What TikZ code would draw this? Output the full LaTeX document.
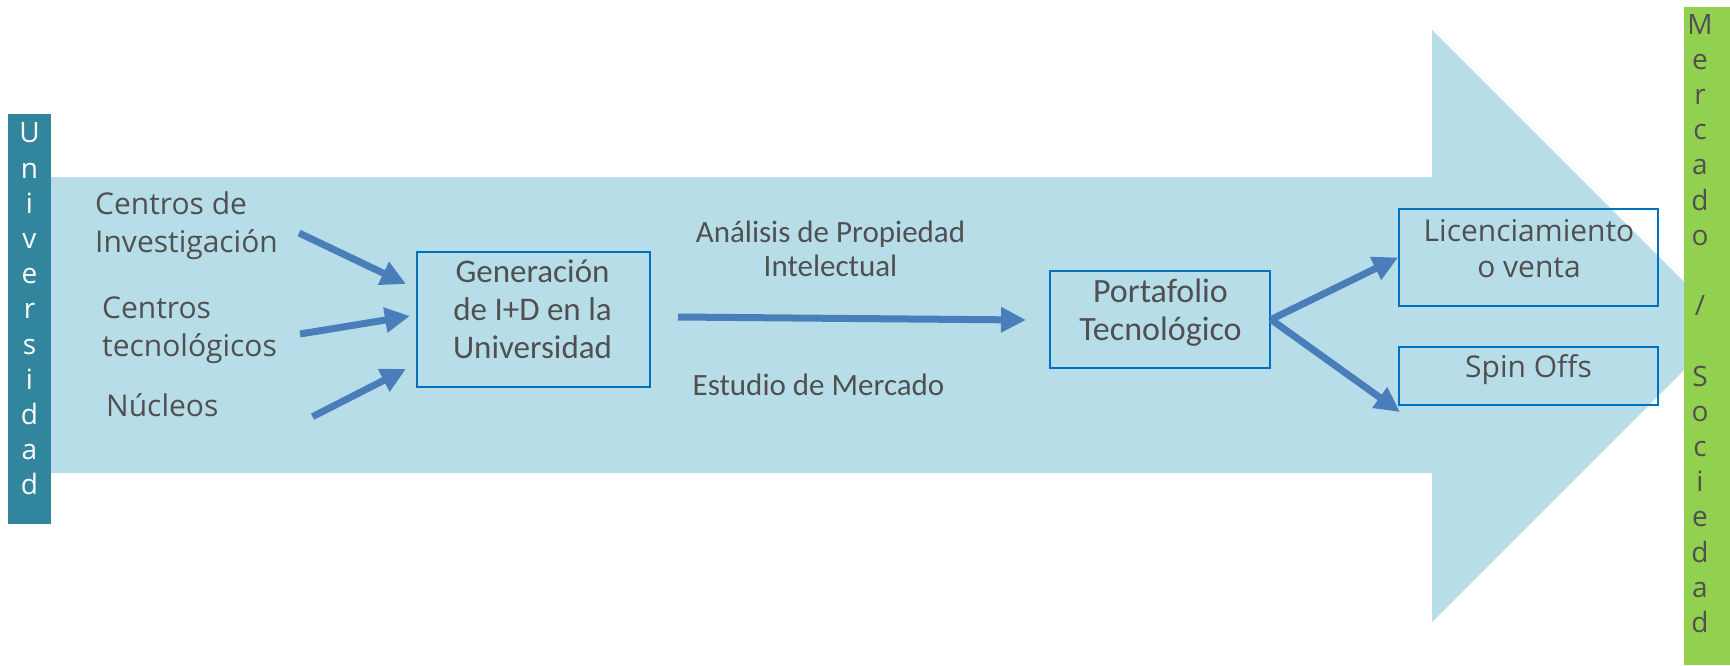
\documentclass[tikz,border=0pt]{standalone}
\usepackage{fontspec}
\setmainfont{Open Sans}
\newfontfamily\calfont{Carlito}
\usetikzlibrary{arrows.meta,calc}

\definecolor{flowblue}{HTML}{B7DEE8}
\definecolor{linkblue}{HTML}{4A7EBB}
\definecolor{boxblue}{HTML}{0070C0}
\definecolor{uniteal}{HTML}{31859C}
\definecolor{mktgreen}{HTML}{92D050}
\definecolor{txtgray}{HTML}{505050}

\tikzset{
  box/.style={draw=boxblue,line width=2pt,inner sep=0pt},
  lbl/.style={text=txtgray,inner sep=0pt,font=\fontsize{30}{38}\selectfont},
  boxtxt/.style={text=txtgray,inner sep=0pt,align=center},
  link/.style={draw=linkblue,line width=7pt,-{Triangle[length=25pt,width=24pt]}},
  vbar/.style={inner sep=0pt,align=center,font=\fontsize{28}{35.2}\selectfont}
}

\begin{document}
\begin{tikzpicture}[x=1pt,y=-1pt]
  \useasboundingbox (0,0) rectangle (1730,665);

  % Big background arrow
  \fill[flowblue] (51,177) -- (1432,177) -- (1432,30) -- (1728,326)
    -- (1432,622) -- (1432,473) -- (51,473) -- cycle;

  % Side bars
  \fill[uniteal] (8,114) rectangle (51,524);
  \fill[mktgreen] (1684,7) rectangle (1730,665);
  \node[vbar,text=white] (uni) at (29.5,309) {U\\n\\i\\v\\e\\r\\s\\i\\d\\a\\d};
  \node[vbar,text=txtgray] (mkt) at (1700,323.5)
    {M\\e\\r\\c\\a\\d\\o\\\mbox{}\\/\\\mbox{}\\S\\o\\c\\i\\e\\d\\a\\d};

  % Sources
  \node[lbl,anchor=west,align=left] (inv) at (95,226) {Centros de\\Investigación};
  \node[lbl,anchor=west,align=left] (tec) at (102,330) {Centros\\tecnológicos};
  \node[lbl,anchor=base west] (nuc) at (106,416) {Núcleos};

  % Boxes
  \node[box,minimum width=233pt,minimum height=135pt] (gen) at (533.5,319.5) {};
  \node[boxtxt,font=\calfont\fontsize{33}{38}\selectfont] (gentxt) at (532.5,309)
    {Generación\\de I+D en la\\Universidad};
  \node[box,minimum width=220pt,minimum height=97pt] (port) at (1160,319.5) {};
  \node[boxtxt,font=\calfont\fontsize{34}{38}\selectfont] (porttxt) at (1160.5,312.7)
    {Portafolio\\Tecnológico};
  \node[box,minimum width=259pt,minimum height=97pt] (lic) at (1528.5,257.5) {};
  \node[boxtxt,font=\fontsize{30}{36}\selectfont] (lictxt) at (1529,248.6)
    {Licenciamiento\\o venta};
  \node[box,minimum width=259pt,minimum height=58pt] (spin) at (1528.5,376) {};
  \node[boxtxt,font=\fontsize{30}{36}\selectfont,anchor=base] (spintxt) at (1528.5,377)
    {Spin Offs};

  % Middle labels
  \node[boxtxt,font=\calfont\fontsize{31}{34}\selectfont,anchor=south] (ana) at (830.5,277)
    {Análisis de Propiedad\\Intelectual};
  \node[boxtxt,font=\calfont\fontsize{31}{34}\selectfont,anchor=base] (est) at (818.5,395)
    {Estudio de Mercado};

  % Arrows
  \draw[link] ($(inv.east)+(21,7)$) -- ($(gen.north west)+(-10,33)$);
  \draw[link] ($(tec.east)+(23,4)$) -- ($(gen.north west)+(-6,65)$);
  \draw[link] ($(nuc.east)+(94,12)$) -- ($(gen.south west)+(-10,-19)$);
  \draw[link] ($(gen.east)+(27,-2.5)$) -- ($(port.west)+(-23,0.5)$);
  \draw[link] (port.east) -- (lic.west);
  \draw[link] (port.east) -- ($(spin.south west)+(2,6)$);
\end{tikzpicture}
\end{document}
